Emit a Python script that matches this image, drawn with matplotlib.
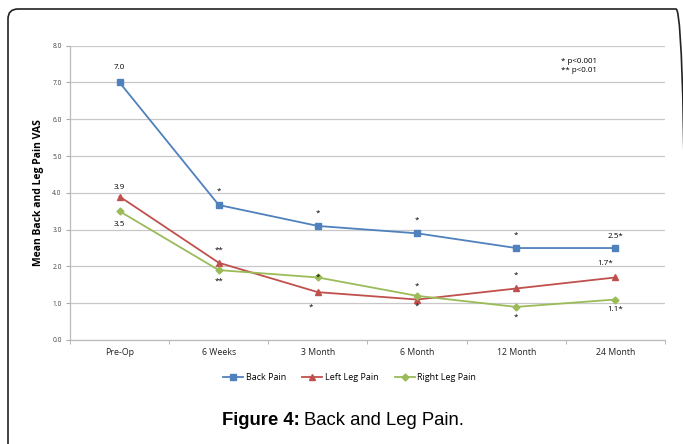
import numpy as np
import matplotlib
matplotlib.use("Agg")
import matplotlib.pyplot as plt
from matplotlib.patches import FancyBboxPatch
from matplotlib.transforms import IdentityTransform

plt.rcParams['font.family'] = ['Open Sans', 'DejaVu Sans']

# data
visits = ['Pre-Op', '6 Weeks', '3 Month', '6 Month', '12 Month', '24 Month']
back_pain = [7.0, 3.67, 3.1, 2.9, 2.5, 2.5]
left_leg = [3.9, 2.1, 1.3, 1.1, 1.4, 1.7]
right_leg = [3.5, 1.9, 1.7, 1.2, 0.9, 1.1]

back_marks = ['7.0', '*', '*', '*', '*', '2.5*']
left_marks = ['3.9', '**', '*', '*', '*', '1.7*']
right_marks = ['3.5', '**', '*', '*', '*', '1.1*']

BLUE = '#4F81BD'
RED = '#C0504D'
GREEN = '#9BBB59'

fig = plt.figure(figsize=(6.83, 4.44), dpi=100)
ax = fig.add_axes([70/683, 1-340/444, 595/683, 294.3/444])

x = np.arange(len(visits))
ax.plot(x, back_pain, color=BLUE, marker='s', ms=5, lw=1.3, label='Back Pain')
ax.plot(x, left_leg, color=RED, marker='^', ms=5, lw=1.3, label='Left Leg Pain')
ax.plot(x, right_leg, color=GREEN, marker='D', ms=3.5, lw=1.3, label='Right Leg Pain')

yt = np.arange(0, 8.1, 1.0)
ax.set_xlim(-0.5, 5.5)
ax.set_ylim(0, 8)
ax.set_yticks(yt)
ax.set_yticklabels(['%.1f' % v for v in yt], fontsize=4.8, color='#444444')
ax.set_xticks(x)
ax.set_xticklabels(visits, fontsize=6.3, color='#222222')
ax.set_xticks(np.arange(-0.5, 5.6, 1.0), minor=True)
ax.tick_params(axis='x', which='major', length=0, pad=6)
ax.tick_params(axis='x', which='minor', length=3, color='#aaaaaa')
ax.tick_params(axis='y', length=3, color='#aaaaaa', pad=3)
ax.grid(axis='y', color='#c8c8c8', lw=0.9)
ax.set_axisbelow(True)
for s in ['top', 'right']:
    ax.spines[s].set_visible(False)
for s in ['left', 'bottom']:
    ax.spines[s].set_color('#bbbbbb')
    ax.spines[s].set_linewidth(0.9)

ax.set_ylabel('Mean Back and Leg Pain VAS', fontsize=7.5, fontweight='bold', labelpad=6)

fs = 5.8
def mark(xp, yp, s):
    ax.text(xp, yp, s, ha='center', va='center', fontsize=fs)

# value labels and significance markers
mark(0, 7.4, back_marks[0])
mark(0, 4.15, left_marks[0])
mark(0, 3.15, right_marks[0])

mark(1, 4.05, back_marks[1])
mark(1, 2.45, left_marks[1])
mark(1, 1.6, right_marks[1])

mark(2, 3.45, back_marks[2])
mark(2, 1.7, right_marks[2])
mark(1.93, 0.9, left_marks[2])

mark(3, 3.25, back_marks[3])
mark(3, 1.45, right_marks[3])
mark(3, 0.92, left_marks[3])

mark(4, 2.85, back_marks[4])
mark(4, 1.75, left_marks[4])
mark(4, 0.62, right_marks[4])

mark(5, 2.81, back_marks[5])
mark(4.9, 2.08, left_marks[5])
mark(5, 0.82, right_marks[5])

ax.text(4.45, 7.45, '* p<0.001\n** p<0.01', ha='left', va='center', fontsize=5.8, linespacing=1.3)

ax.legend(loc='upper center', bbox_to_anchor=(0.47, -0.085), ncol=3, frameon=False,
          fontsize=6.5, handlelength=2.2, handletextpad=0.3, columnspacing=1.8)

# caption: bold "Figure 4:" followed by regular text
cap_y = 1 - 420/444
t1 = fig.text(222/683, cap_y, 'Figure 4:', ha='left', va='center', fontsize=13.3,
              fontweight='bold', family='Liberation Sans')
fig.canvas.draw()
w = t1.get_window_extent().width
fig.text(222/683 + (w + 4)/683, cap_y, 'Back and Leg Pain.', ha='left', va='center',
         fontsize=13.3, family='Liberation Sans')

# rounded frame around the figure (bottom and right run off the image)
frame = FancyBboxPatch((8, -40), 678, 444 - 9 + 40,
                       boxstyle='round,pad=0,rounding_size=10',
                       transform=IdentityTransform(), fill=False,
                       edgecolor='#222222', lw=1.2)
fig.patches.append(frame)

fig.savefig('out.png', dpi=100)
